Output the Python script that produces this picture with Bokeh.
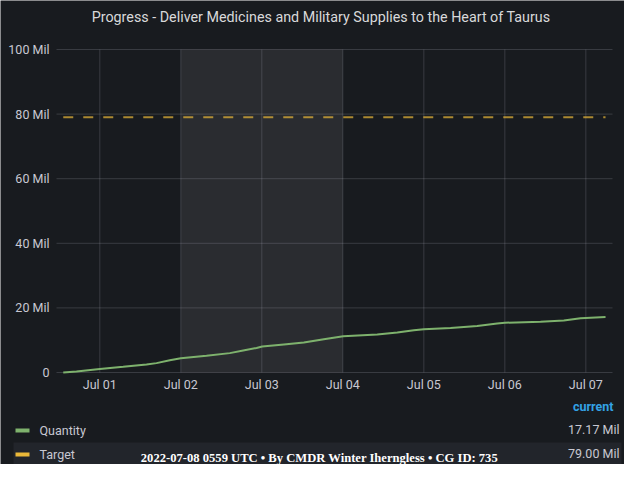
import pandas as pd
from bokeh.plotting import figure
from bokeh.models import Range1d
from bokeh.core.properties import value
from bokeh.embed import file_html
from bokeh.resources import INLINE

# ---------------- data ----------------
title_text = "Progress - Deliver Medicines and Military Supplies to the Heart of Taurus"
footer_text = "2022-07-08 0559 UTC \u2022 By CMDR Winter Iherngless \u2022 CG ID: 735"

times = [
    "2022-06-30 13:10", "2022-06-30 17:05", "2022-07-01 00:00", "2022-07-01 06:56",
    "2022-07-01 13:50", "2022-07-01 16:48", "2022-07-01 20:44", "2022-07-02 00:00",
    "2022-07-02 07:36", "2022-07-02 14:31", "2022-07-02 18:29", "2022-07-02 22:26",
    "2022-07-03 00:07", "2022-07-03 06:32", "2022-07-03 12:27", "2022-07-03 18:22",
    "2022-07-04 00:07", "2022-07-04 10:12", "2022-07-04 16:08", "2022-07-04 21:03",
    "2022-07-05 00:00", "2022-07-05 07:55", "2022-07-05 15:49", "2022-07-05 21:44",
    "2022-07-06 00:00", "2022-07-06 10:35", "2022-07-06 17:29", "2022-07-06 22:26",
    "2022-07-07 05:50",
]
quantity_mil = [
    0.0, 0.3, 1.1, 1.75,
    2.5, 2.9, 3.8, 4.4,
    5.2, 6.0, 6.8, 7.6,
    8.05, 8.7, 9.3, 10.3,
    11.2, 11.8, 12.4, 13.1,
    13.4, 13.8, 14.4, 15.2,
    15.4, 15.7, 16.1, 16.8,
    17.17,
]
target_times = [times[0], times[-1]]
target_mil = [79.0, 79.0]

series_names = ["Quantity", "Target"]
series_colors = ["#7eb26d", "#eab839"]
legend_header = "current"

x_tick_dates = ["2022-07-01", "2022-07-02", "2022-07-03", "2022-07-04",
                "2022-07-05", "2022-07-06", "2022-07-07"]
y_ticks = [0, 20, 40, 60, 80, 100]
highlight_start = "2022-07-02 00:00"
highlight_end = "2022-07-04 00:00"
view_start = "2022-06-30 11:10"
view_end = "2022-07-07 07:54"
y_min, y_max = 0, 100

# ---------------- layout / style ----------------
W, H = 624, 464
PL, PR, PT, PB = 56, 612, 49, 372          # plot area in pixels
BG = "#181b1f"
TXT = "#c8c8d2"
GRID = "#ccccdc"
FONT = value("Roboto")


def ms(s):
    return pd.Timestamp(s).value / 1e6


x0, x1 = ms(view_start), ms(view_end)
mpp = (x1 - x0) / (PR - PL)
upp = (y_max - y_min) / (PB - PT)

p = figure(width=W, height=H,
           x_range=Range1d(x0 - PL * mpp, x1 + (W - PR) * mpp),
           y_range=Range1d(y_min - (H - PB) * upp, y_max + PT * upp),
           x_axis_type=None, y_axis_type=None, min_border=0,
           output_backend="svg", toolbar_location=None,
           background_fill_color=BG, border_fill_color=BG, outline_line_color=None)
p.extra_x_ranges = {"px": Range1d(0, W)}
p.extra_y_ranges = {"px": Range1d(H, 0)}

# highlighted time band
p.quad(left=[ms(highlight_start)], right=[ms(highlight_end)], bottom=[y_min], top=[y_max],
       fill_color="white", fill_alpha=0.08, line_color=None)

# grid
p.segment(x0=[x0] * len(y_ticks), x1=[x1] * len(y_ticks), y0=y_ticks, y1=y_ticks,
          line_color=GRID, line_alpha=0.18, line_width=1)
xt = [ms(d) for d in x_tick_dates]
p.segment(x0=xt, x1=xt, y0=[y_min] * len(xt), y1=[y_max] * len(xt),
          line_color=GRID, line_alpha=0.18, line_width=1)

# series
p.line(x=pd.to_datetime(target_times), y=target_mil, line_color=series_colors[1],
       line_alpha=0.7, line_width=2, line_dash="10 10")
p.line(x=pd.to_datetime(times), y=quantity_mil, line_color=series_colors[0],
       line_width=2)

# axis tick labels
y_labels = ["0" if t == 0 else f"{t} Mil" for t in y_ticks]
p.text(x=[PL - 7] * len(y_ticks), y=y_ticks, text=y_labels, x_range_name="px",
       text_font=FONT, text_font_size="12.5px", text_color=TXT,
       text_align="right", text_baseline="middle")
x_labels = [pd.Timestamp(d).strftime("%b %d") for d in x_tick_dates]
p.text(x=xt, y=[PB + 12] * len(xt), text=x_labels, y_range_name="px",
       text_font=FONT, text_font_size="12.5px", text_color=TXT,
       text_align="center", text_baseline="middle")

# title
p.text(x=[320.5], y=[16], text=[title_text], x_range_name="px", y_range_name="px",
       text_font=FONT, text_font_size="14.3px", text_color="#d8d9da",
       text_align="center", text_baseline="middle")

# legend table
row_y = [430, 454]
p.quad(left=[13], right=[621], top=[442], bottom=[464], x_range_name="px",
       y_range_name="px", fill_color="#22252b", line_color=None)
p.text(x=[613], y=[406], text=[legend_header], x_range_name="px", y_range_name="px",
       text_font=FONT, text_font_size="12.5px", text_font_style="bold",
       text_color="#33a2e5", text_align="right", text_baseline="middle")
p.segment(x0=[15, 15], x1=[29, 29], y0=row_y, y1=row_y, x_range_name="px",
          y_range_name="px", line_color=series_colors, line_width=4, line_cap="butt")
p.text(x=[39, 39], y=row_y, text=series_names, x_range_name="px", y_range_name="px",
       text_font=FONT, text_font_size="12.5px", text_color=TXT,
       text_align="left", text_baseline="middle")
current_vals = [f"{quantity_mil[-1]:.2f} Mil", f"{target_mil[-1]:.2f} Mil"]
p.text(x=[619, 619], y=[r - 1 for r in row_y], text=current_vals, x_range_name="px",
       y_range_name="px", text_font=FONT, text_font_size="12.5px", text_color=TXT,
       text_align="right", text_baseline="middle")

# footer
p.text(x=[319], y=[457], text=[footer_text], x_range_name="px", y_range_name="px",
       text_font=value("Liberation Serif"), text_font_size="12.6px",
       text_font_style="bold", text_color="#ffffff",
       text_align="center", text_baseline="middle")

open("out.html", "w").write(file_html(p, INLINE))
